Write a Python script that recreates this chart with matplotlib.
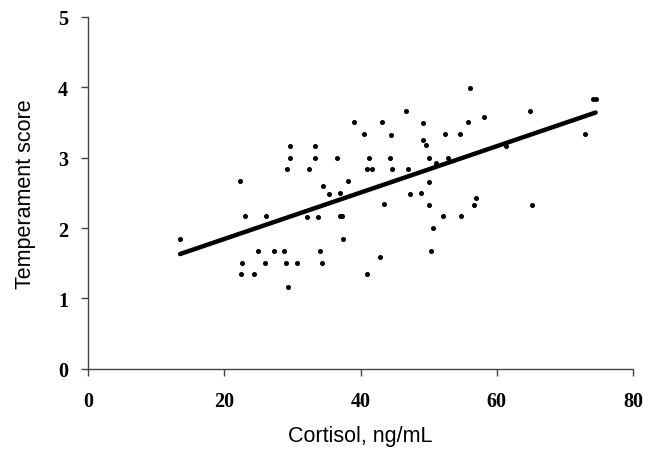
import matplotlib
matplotlib.use("Agg")
import matplotlib.pyplot as plt

cortisol = [13.5, 22.3, 29.6, 33.3, 29.7, 33.3, 29.2, 32.5, 23.1, 26.1, 32.1, 33.8,
            24.9, 27.3, 28.7, 34.1, 22.6, 26.0, 29.1, 30.6, 22.5, 24.4, 29.3,
            46.7, 39.0, 43.1, 49.2, 55.7, 56.0, 40.5, 44.4, 52.4, 54.6, 49.2, 49.6,
            36.6, 41.2, 44.3, 50.0, 52.8, 40.9, 41.7, 44.6, 46.9, 51.1, 38.2, 50.1,
            34.5, 35.4, 37.0, 47.3, 48.9, 43.5, 50.0, 37.0, 37.3, 52.1, 54.8, 50.6,
            37.4, 50.3, 34.4, 42.8, 40.9,
            74.1, 74.5, 64.9, 58.1, 72.9, 61.3, 57.0, 56.7, 65.2]
temperament = [1.84, 2.67, 3.16, 3.16, 3.0, 3.0, 2.84, 2.84, 2.17, 2.17, 2.16, 2.16,
               1.67, 1.67, 1.68, 1.67, 1.51, 1.51, 1.51, 1.51, 1.34, 1.34, 1.16,
               3.66, 3.50, 3.50, 3.49, 3.50, 3.99, 3.34, 3.32, 3.33, 3.33, 3.25, 3.18,
               3.0, 3.0, 3.0, 3.0, 3.0, 2.84, 2.84, 2.84, 2.84, 2.92, 2.67, 2.66,
               2.59, 2.49, 2.50, 2.49, 2.50, 2.34, 2.33, 2.17, 2.17, 2.17, 2.17, 2.0,
               1.84, 1.68, 1.51, 1.59, 1.34,
               3.83, 3.83, 3.66, 3.58, 3.33, 3.16, 2.42, 2.33, 2.33]

fit_x = [13.5, 74.5]
fit_y = [1.63, 3.64]

x_ticks = [0, 20, 40, 60, 80]
y_ticks = [0, 1, 2, 3, 4, 5]

fig = plt.figure(figsize=(6.52, 4.56), dpi=100)
ax = fig.add_axes([0.135, 0.189, 0.836, 0.772])

ax.plot(cortisol, temperament, linestyle="none", marker="o", markersize=2.6,
        color="black", zorder=3)
ax.plot(fit_x, fit_y, color="black", linewidth=3.2, solid_capstyle="round", zorder=2)

ax.set_xlim(0, 80)
ax.set_ylim(0, 5)
ax.set_xticks(x_ticks)
ax.set_yticks(y_ticks)
for lab in ax.get_xticklabels() + ax.get_yticklabels():
    lab.set_fontfamily("Liberation Serif")
    lab.set_fontweight("bold")
    lab.set_fontsize(14.5)

ax.spines["top"].set_visible(False)
ax.spines["right"].set_visible(False)
for s in ("left", "bottom"):
    ax.spines[s].set_color("#444444")
    ax.spines[s].set_linewidth(1.0)
ax.tick_params(axis="both", direction="out", length=5, width=1.0, color="#444444")
ax.tick_params(axis="x", pad=11)
ax.tick_params(axis="y", pad=9.5)

ax.set_xlabel("Cortisol, ng/mL", fontfamily="Liberation Sans", fontsize=15.5, labelpad=10)
ax.set_ylabel("Temperament score", fontfamily="Liberation Sans", fontsize=15.5, labelpad=16)

fig.savefig("out.png", dpi=100)
